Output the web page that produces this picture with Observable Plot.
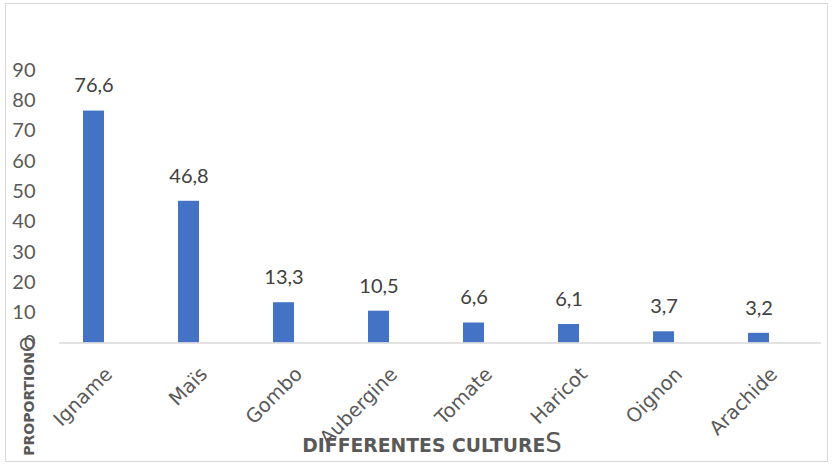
<!DOCTYPE html>
<html>
<head>
<meta charset="utf-8">
<script src="https://cdn.jsdelivr.net/npm/d3@7"></script>
<script src="https://cdn.jsdelivr.net/npm/@observablehq/plot@0.6"></script>
<style>
  html, body { margin: 0; padding: 0; background: #fff; }
  #wrap { position: relative; width: 833px; height: 464px; background: #fff; overflow: hidden; }
  #border { position: absolute; left: 5px; top: 3px; width: 821px; height: 457px; border: 1.5px solid #d9d9d9; }
  #chart { position: absolute; left: 0; top: 0; }
  .ttl { position: absolute; white-space: nowrap; color: #595959; font-family: "Comic Sans MS", "DejaVu Sans", sans-serif; }
  #xtitle { left: 432px; top: 443px; transform: translate(-50%, -50%); font-size: 18.8px; font-weight: bold; }
  #xtitle .big { font-size: 26px; font-weight: normal; }
  #ytitle { left: 27px; top: 396px; transform: translate(-50%, -50%) rotate(-90deg); font-size: 14px; font-weight: bold; font-family: "DejaVu Sans", sans-serif; }
  #ytitle .big { font-size: 20px; font-weight: normal; }
</style>
</head>
<body>
<div id="wrap">
  <div id="border"></div>
  <div id="chart"></div>
  <div id="xtitle" class="ttl">DIFFERENTES CULTURE<span class="big">S</span></div>
  <div id="ytitle" class="ttl">PROPORTION<span class="big">O</span></div>
</div>
<script>
const cultures = ["Igname", "Maïs", "Gombo", "Aubergine", "Tomate", "Haricot", "Oignon", "Arachide"];
const proportions = [76.6, 46.8, 13.3, 10.5, 6.6, 6.1, 3.7, 3.2];
const yTicks = [0, 10, 20, 30, 40, 50, 60, 70, 80, 90];

const data = cultures.map((c, i) => ({culture: c, value: proportions[i]}));
const fmt = v => String(v).replace(".", ",");

const chart = Plot.plot({
  width: 833,
  height: 464,
  marginLeft: 45,
  marginRight: 25.6,
  marginTop: 70,
  marginBottom: 121.5,
  style: {background: "transparent", fontFamily: "Lato, 'Open Sans', sans-serif"},
  x: {type: "band", domain: cultures, paddingInner: 0.78, paddingOuter: 0.39, axis: null},
  y: {domain: [0, 90], axis: null},
  marks: [
    Plot.axisY({ticks: yTicks, tickSize: 0, tickPadding: 10, fontSize: 20, color: "#595959", label: null, tickFormat: d => d}),
    Plot.axisX({tickRotate: -45, tickSize: 0, tickPadding: 0, dx: 15, dy: 28, fontSize: 19.5, color: "#595959", label: null}),
    Plot.barY(data, {x: "culture", y: "value", fill: "#4472C4"}),
    Plot.ruleY([0], {stroke: "#d9d9d9", strokeWidth: 1.5, insetLeft: 14, insetRight: -13.6}),
    Plot.text(data, {x: "culture", y: "value", text: d => fmt(d.value), dy: -25, fontSize: 20,
      fill: "#404040", lineAnchor: "middle"})
  ]
});
d3.select(chart).selectAll("text")
  .filter(function() { return cultures.includes(this.textContent); })
  .style("font-family", "'Comic Sans MS', 'DejaVu Sans', sans-serif");
document.getElementById("chart").appendChild(chart);
</script>
</body>
</html>
